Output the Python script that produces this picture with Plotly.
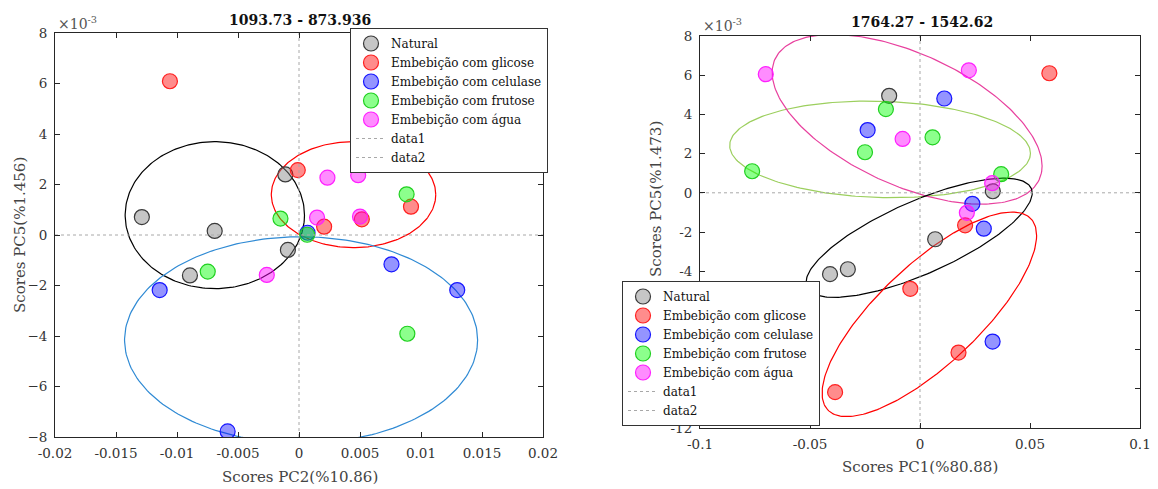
import numpy as np
import plotly.graph_objects as go

# ---------------- data (y values in units of 1e-3) ----------------
series_names = ["Natural", "Embebição com glicose", "Embebição com celulase",
                "Embebição com frutose", "Embebição com água"]

# Left panel: PC2 vs PC5
nat_L_x = [-0.01288, -0.00691, -0.00894, -0.00091, -0.00112]
nat_L_y = [0.71, 0.16, -1.60, -0.59, 2.40]
gli_L_x = [-0.01058, -0.0001, 0.00206, 0.00515, 0.00918]
gli_L_y = [6.09, 2.57, 0.33, 0.62, 1.12]
cel_L_x = [-0.01142, -0.00585, 0.0007, 0.00758, 0.01297]
cel_L_y = [-2.18, -7.78, 0.09, -1.16, -2.18]
fru_L_x = [-0.00748, -0.00152, 0.00067, 0.00882, 0.00888]
fru_L_y = [-1.45, 0.65, 0.01, 1.61, -3.91]
agu_L_x = [-0.00264, 0.00148, 0.00233, 0.00485, 0.00500]
agu_L_y = [-1.58, 0.69, 2.27, 2.37, 0.73]

# Right panel: PC1 vs PC5
nat_R_x = [-0.01402, -0.0409, -0.0328, 0.00689, 0.0331]
nat_R_y = [4.95, -4.15, -3.90, -2.37, 0.08]
gli_R_x = [0.0588, -0.0044, 0.0205, 0.0175, -0.0386]
gli_R_y = [6.10, -4.90, -1.66, -8.15, -10.17]
cel_R_x = [0.01104, -0.0238, 0.0238, 0.0290, 0.0330]
cel_R_y = [4.81, 3.20, -0.56, -1.83, -7.59]
fru_R_x = [-0.0155, -0.0250, 0.0057, -0.0763, 0.0369]
fru_R_y = [4.27, 2.07, 2.83, 1.10, 0.95]
agu_R_x = [-0.0701, -0.0079, 0.0222, 0.0328, 0.0213]
agu_R_y = [6.05, 2.75, 6.25, 0.49, -1.02]

# Confidence ellipses: centre x, centre y, half-width, half-height, phase (deg)
ell_L_cx = [-0.0069, 0.00447, 0.00017]
ell_L_cy = [0.785, 1.60, -4.16]
ell_L_a = [0.00735, 0.00674, 0.01447]
ell_L_b = [2.91, 2.10, 4.09]
ell_L_phi = [90, 90, 90]
ell_L_col = ["#000000", "#ff0000", "#2f8ad4"]

ell_R_cx = [-0.01815, -0.00585, -0.0004, 0.00425]
ell_R_cy = [2.215, 3.75, -2.295, -6.2]
ell_R_a = [0.06835, 0.06135, 0.0514, 0.04875]
ell_R_b = [2.465, 4.33, 3.04, 5.22]
ell_R_phi = [94.6, 123.4, 41.4, 39.6]
ell_R_col = ["#9ccf5e", "#e8409e", "#000000", "#ff0000"]

# axes
xL_range = [-0.02, 0.02]
yL_range = [-8, 8]
xL_ticks = [-0.02, -0.015, -0.01, -0.005, 0, 0.005, 0.01, 0.015, 0.02]
xL_text = ["-0.02", "-0.015", "-0.01", "-0.005", "0", "0.005", "0.01", "0.015", "0.02"]
yL_ticks = [-8, -6, -4, -2, 0, 2, 4, 6, 8]

xR_range = [-0.1, 0.1]
yR_range = [-12, 8]
xR_ticks = [-0.1, -0.05, 0, 0.05, 0.1]
xR_text = ["-0.1", "-0.05", "0", "0.05", "0.1"]
yR_ticks = [-12, -10, -8, -6, -4, -2, 0, 2, 4, 6, 8]
# labels -10..-6 sit behind the legend in the original
yR_text = ["-12", "", "", "", "-4", "-2", "0", "2", "4", "6", "8"]

titles = ["1093.73 - 873.936", "1764.27 - 1542.62"]
xtitles = ["Scores PC2(%10.86)", "Scores PC1(%80.88)"]
ytitles = ["Scores PC5(%1.456)", "Scores PC5(%1.473)"]

# ---------------- styling ----------------
FONT = "DejaVu Serif"
face = ["rgba(128,128,128,0.45)", "rgba(255,0,0,0.45)", "rgba(0,0,255,0.42)",
        "rgba(0,255,0,0.45)", "rgba(255,0,255,0.45)"]
edge = ["#3a3a3a", "#ff2020", "#1515ff", "#20d020", "#ff20ff"]

fig = go.Figure()

W, H = 1158, 489
domL_x = [55 / W, 543 / W]
domL_y = [1 - 437 / H, 1 - 33 / H]
domR_x = [700 / W, 1140 / W]
domR_y = [1 - 428 / H, 1 - 36 / H]


def ellipse(cx, cy, a, b, phi):
    t = np.linspace(0, 2 * np.pi, 240)
    return cx + a * np.cos(t), cy + b * np.cos(t - np.radians(phi))


def add_panel(xa, ya, legend, xs, ys, ell, xr, yr):
    for cx, cy, a, b, ph, col in zip(*ell):
        ex, ey = ellipse(cx, cy, a, b, ph)
        fig.add_trace(go.Scatter(x=ex, y=ey, mode="lines", xaxis=xa, yaxis=ya,
                                 line=dict(color=col, width=1.2), showlegend=False,
                                 hoverinfo="skip"))
    for i, name in enumerate(series_names):
        fig.add_trace(go.Scatter(x=xs[i], y=ys[i], mode="markers", name=name,
                                 xaxis=xa, yaxis=ya, legend=legend,
                                 marker=dict(size=15, color=face[i],
                                             line=dict(color=edge[i], width=1.2))))
    fig.add_trace(go.Scatter(x=xr, y=[0, 0], mode="lines", name="data1",
                             xaxis=xa, yaxis=ya, legend=legend,
                             line=dict(color="#a8a8a8", width=1, dash="dot")))
    fig.add_trace(go.Scatter(x=[0, 0], y=yr, mode="lines", name="data2",
                             xaxis=xa, yaxis=ya, legend=legend,
                             line=dict(color="#a8a8a8", width=1, dash="dot")))


add_panel("x", "y", "legend",
          [nat_L_x, gli_L_x, cel_L_x, fru_L_x, agu_L_x],
          [nat_L_y, gli_L_y, cel_L_y, fru_L_y, agu_L_y],
          (ell_L_cx, ell_L_cy, ell_L_a, ell_L_b, ell_L_phi, ell_L_col),
          xL_range, yL_range)
add_panel("x2", "y2", "legend2",
          [nat_R_x, gli_R_x, cel_R_x, fru_R_x, agu_R_x],
          [nat_R_y, gli_R_y, cel_R_y, fru_R_y, agu_R_y],
          (ell_R_cx, ell_R_cy, ell_R_a, ell_R_b, ell_R_phi, ell_R_col),
          xR_range, yR_range)

axis_common = dict(showline=True, linecolor="#262626", linewidth=1, mirror="allticks",
                   ticks="inside", ticklen=5, tickcolor="#262626", showgrid=False,
                   zeroline=False, automargin=False, ticklabelstandoff=4,
                   tickfont=dict(family=FONT, size=13.5, color="#333333"))

leg_common = dict(bgcolor="white", bordercolor="#333333", borderwidth=1,
                  font=dict(family=FONT, size=12, color="#111111"),
                  xanchor="left", yanchor="top", tracegroupgap=0, itemsizing="trace")

fig.update_layout(
    width=W, height=H, margin=dict(l=0, r=0, t=0, b=0, autoexpand=False),
    paper_bgcolor="white", plot_bgcolor="white",
    font=dict(family=FONT),
    xaxis=dict(domain=domL_x, range=xL_range, tickvals=xL_ticks, ticktext=xL_text,
               anchor="y", **axis_common),
    yaxis=dict(domain=domL_y, range=yL_range, tickvals=yL_ticks, anchor="x", **axis_common),
    xaxis2=dict(domain=domR_x, range=xR_range, tickvals=xR_ticks, ticktext=xR_text,
                anchor="y2", **axis_common),
    yaxis2=dict(domain=domR_y, range=yR_range, tickvals=yR_ticks, ticktext=yR_text,
                anchor="x2", **axis_common),
    legend=dict(x=350 / W, y=1 - 28 / H, **leg_common),
    legend2=dict(x=622 / W, y=1 - 281 / H, **leg_common),
    showlegend=True,
)

ann = []
# titles
for cx, cy, txt in [(300, 20, titles[0]), (922, 22, titles[1])]:
    ann.append(dict(x=cx / W, y=1 - cy / H, xref="paper", yref="paper", text="<b>%s</b>" % txt,
                    showarrow=False, font=dict(family=FONT, size=14, color="#111111"),
                    xanchor="center", yanchor="middle"))
# x titles
for cx, cy, txt in [(300, 477, xtitles[0]), (920, 467, xtitles[1])]:
    ann.append(dict(x=cx / W, y=1 - cy / H, xref="paper", yref="paper", text=txt,
                    showarrow=False, font=dict(family=FONT, size=15, color="#444444"),
                    xanchor="center", yanchor="middle"))
# y titles
for cx, cy, txt in [(20, 235, ytitles[0]), (656, 199, ytitles[1])]:
    ann.append(dict(x=cx / W, y=1 - cy / H, xref="paper", yref="paper", text=txt,
                    showarrow=False, textangle=-90,
                    font=dict(family=FONT, size=15, color="#444444"),
                    xanchor="center", yanchor="middle"))
# exponent labels
for cx, cy in [(56, 23), (701, 25)]:
    ann.append(dict(x=cx / W, y=1 - cy / H, xref="paper", yref="paper",
                    text="×10<sup>-3</sup>", showarrow=False,
                    font=dict(family=FONT, size=14, color="#555555"),
                    xanchor="left", yanchor="middle"))
fig.update_layout(annotations=ann)

fig.write_html("out.html")
